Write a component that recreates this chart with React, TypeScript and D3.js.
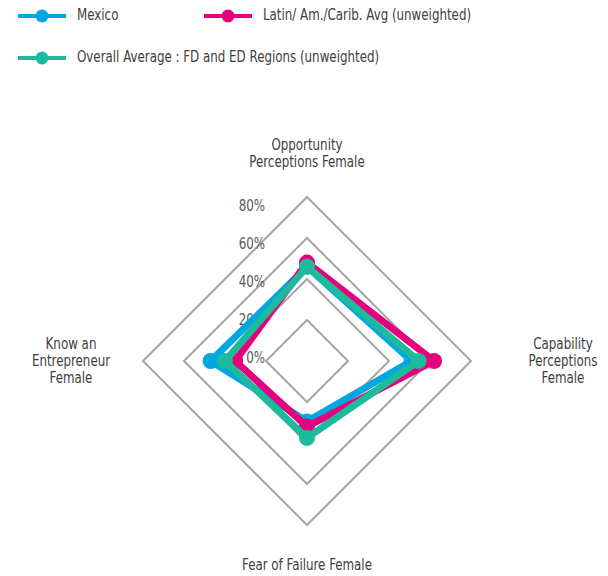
import React, { useEffect, useRef } from "react";
import * as d3 from "d3";

const axes = [
  ["Opportunity", "Perceptions Female"],
  ["Capability", "Perceptions", "Female"],
  ["Fear of Failure Female"],
  ["Know an", "Entrepreneur", "Female"],
];
const ticks = [0, 20, 40, 60, 80];
const mexico = [46, 51, 29.5, 47];
const latinAvg = [48, 62, 32, 35];
const overallAvg = [46, 54.5, 37.5, 40];
const seriesNames = [
  "Mexico",
  "Latin/ Am./Carib. Avg (unweighted)",
  "Overall Average : FD and ED Regions (unweighted)",
];
const colors = ["#00a7e1", "#e5007d", "#1dba9c"];

const FONT = "'DejaVu Sans Condensed', 'DejaVu Sans', sans-serif";
const SQUEEZE = 0.88;

const App: React.FC = () => {
  const svgRef = useRef<SVGSVGElement | null>(null);

  useEffect(() => {
    if (!svgRef.current) return;
    const width = 608;
    const height = 576;
    const cx = 307;
    const cy = 361;

    const svg = d3.select(svgRef.current).attr("width", width).attr("height", height);
    svg.selectAll("*").remove();

    // condensed text: place at (x, y), squeeze horizontally
    const addText = (
      parent: d3.Selection<SVGGElement, unknown, null, undefined>,
      x: number,
      y: number,
      str: string,
      anchor: string,
      size: number,
      fill: string
    ) =>
      parent
        .append("text")
        .attr("transform", `translate(${x},${y}) scale(${SQUEEZE},1)`)
        .attr("text-anchor", anchor)
        .attr("dominant-baseline", "middle")
        .attr("font-family", FONT)
        .attr("font-size", size)
        .attr("fill", fill)
        .text(str);

    const r = d3.scaleLinear().domain([0, 80]).range([0, 164]);
    // Excel places the value labels a bit tighter than the gridlines
    const rLabel = d3.scaleLinear().domain([0, 80]).range([2, 154]);
    const angle = (i: number) => (i * Math.PI) / 2;
    const pt = (i: number, v: number): [number, number] => [
      cx + r(v) * Math.sin(angle(i)),
      cy - r(v) * Math.cos(angle(i)),
    ];

    const g = svg.append("g");

    // grid diamonds
    ticks.slice(1).forEach((t) => {
      const pts = axes.map((_, i) => pt(i, t));
      g.append("path")
        .attr("d", d3.line()(pts) + "Z")
        .attr("fill", "none")
        .attr("stroke", "#a6a6a6")
        .attr("stroke-width", 2);
    });

    // tick labels
    ticks.forEach((t) => {
      addText(g, 265, cy - rLabel(t), `${t}%`, "end", 15, "#595959");
    });

    // series
    const all = [mexico, latinAvg, overallAvg];
    all.forEach((vals, si) => {
      const pts = vals.map((v, i) => pt(i, v));
      g.append("path")
        .attr("d", d3.line()(pts) + "Z")
        .attr("fill", "none")
        .attr("stroke", colors[si])
        .attr("stroke-width", 7)
        .attr("stroke-linejoin", "round");
      g.selectAll(null)
        .data(pts)
        .enter()
        .append("circle")
        .attr("cx", (d) => d[0])
        .attr("cy", (d) => d[1])
        .attr("r", 8)
        .attr("fill", colors[si]);
    });

    // axis labels
    const labelPos: [number, number][] = [
      [307, 146],
      [563, 345],
      [307, 566],
      [71, 345],
    ];
    axes.forEach((lines, i) => {
      lines.forEach((ln, li) => {
        addText(g, labelPos[i][0], labelPos[i][1] + li * 17, ln, "middle", 15, "#404040");
      });
    });

    // legend
    const legendPos: [number, number][] = [
      [18, 16],
      [204, 16],
      [18, 58],
    ];
    seriesNames.forEach((name, i) => {
      const [lx, ly] = legendPos[i];
      const lg = svg.append("g").attr("transform", `translate(${lx},${ly})`);
      lg.append("line")
        .attr("x1", 0)
        .attr("x2", 48)
        .attr("stroke", colors[i])
        .attr("stroke-width", 4);
      lg.append("circle").attr("cx", 24).attr("r", 6.5).attr("fill", colors[i]);
      addText(lg, 59, 0, name, "start", 15, "#404040");
    });
  }, []);

  return (
    <svg
      ref={svgRef}
      style={{ position: "absolute", left: 0, top: 0, background: "#fff" }}
    ></svg>
  );
};

export default App;
